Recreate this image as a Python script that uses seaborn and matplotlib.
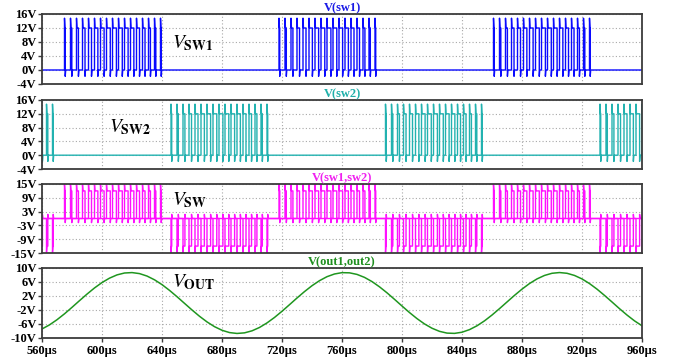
import numpy as np
import pandas as pd
import matplotlib
matplotlib.use("Agg")
import matplotlib.pyplot as plt
from matplotlib.ticker import FuncFormatter
import seaborn as sns

# ---------------- data ----------------
t_start, t_end = 560, 960                      # µs
x_ticks = [560, 600, 640, 680, 720, 760, 800, 840, 880, 920, 960]

# switching bursts (start of each PWM burst, µs)
sw1_burst_starts = [575, 718, 861]
sw2_burst_starts = [503, 646, 789, 932]
pwm_period = 4.0                               # µs
pwm_duty = [0.12, 0.22, 0.32, 0.42, 0.5, 0.56, 0.6, 0.63, 0.65,
            0.63, 0.6, 0.56, 0.5, 0.42, 0.32, 0.22, 0.12]
v_high = 12.0
v_overshoot = 14.8
v_undershoot = -1.8

# output voltage, sampled every 5 µs from 560 µs
vout_t = list(range(560, 961, 5))
vout_v = [-7.42, -6.25, -4.78, -3.09, -1.24, 0.67, 2.54, 4.30, 5.84, 7.10,
          8.03, 8.57, 8.69, 8.40, 7.70, 6.63, 5.25, 3.61, 1.80, -0.10,
          -1.99, -3.79, -5.40, -6.76, -7.79, -8.45, -8.70, -8.53, -7.95, -6.99,
          -5.69, -4.13, -2.36, -0.48, 1.43, 3.26, 4.94, 6.38, 7.52, 8.29,
          8.67, 8.62, 8.17, 7.32, 6.12, 4.62, 2.91, 1.05, -0.86, -2.73,
          -4.46, -5.98, -7.21, -8.10, -8.60, -8.68, -8.35, -7.61, -6.51, -5.10,
          -3.44, -1.61, 0.29, 2.18, 3.96, 5.56, 6.88, 7.87, 8.49, 8.70,
          8.49, 7.87, 6.88, 5.55, 3.96, 2.17, 0.29, -1.62, -3.44, -5.10, -6.51]

panel_titles = ["V(sw1)", "V(sw2)", "V(sw1,sw2)", "V(out1,out2)"]
panel_labels = [r"$V_{\mathbf{SW1}}$", r"$V_{\mathbf{SW2}}$",
                r"$V_{\mathbf{SW}}$", r"$V_{\mathbf{OUT}}$"]
yticks_sw = [-4, 0, 4, 8, 12, 16]
yticks_sw12 = [-15, -9, -3, 3, 9, 15]
yticks_out = [-10, -6, -2, 2, 6, 10]


def pwm_wave(bursts, sign):
    t, v = [t_start - 100], [0.0]
    for s in bursts:
        for k, d in enumerate(pwm_duty):
            tr = s + k * pwm_period
            tf = tr + d * pwm_period
            t += [tr, tr, tr + 0.3, tf, tf, tf + 0.3]
            v += [0, v_overshoot, v_high, v_high, v_undershoot, 0]
    t.append(t_end + 100)
    v.append(0.0)
    return pd.DataFrame({"t": t, "v": np.array(v) * sign})


sw1 = pwm_wave(sw1_burst_starts, 1)
sw2 = pwm_wave(sw2_burst_starts, 1)
sw_pos = pwm_wave(sw1_burst_starts, 1)
sw_neg = pwm_wave(sw2_burst_starts, -1)
out = pd.DataFrame({"t": vout_t, "v": vout_v})

# ---------------- figure ----------------
sns.set_theme(style="white")
plt.rcParams["font.family"] = ["Liberation Serif", "DejaVu Serif"]
plt.rcParams["mathtext.fontset"] = "stix"

fig = plt.figure(figsize=(6.73, 3.62), dpi=100)
W, H = 673, 362
left, width = 42 / W, 600 / W
panel_px = [(14, 84), (100, 169), (184, 253), (268, 338)]
axes = []
for top, bot in panel_px:
    ax = fig.add_axes([left, 1 - bot / H, width, (bot - top) / H])
    axes.append(ax)

blue, teal, mag, green = "#0a0aff", "#22b2b0", "#ff10ff", "#1f961f"
title_cols = ["#1a1ae6", "#20b0aa", "#f020f0", "#1f8f1f"]
frame_col = "#3c3c3c"

sns.lineplot(data=sw1, x="t", y="v", ax=axes[0], color=blue, linewidth=1.0,
             sort=False, estimator=None)
sns.lineplot(data=sw2, x="t", y="v", ax=axes[1], color=teal, linewidth=1.0,
             sort=False, estimator=None)
sns.lineplot(data=sw_pos, x="t", y="v", ax=axes[2], color=mag, linewidth=1.0,
             sort=False, estimator=None)
sns.lineplot(data=sw_neg, x="t", y="v", ax=axes[2], color=mag, linewidth=1.0,
             sort=False, estimator=None)
sns.lineplot(data=out, x="t", y="v", ax=axes[3], color=green, linewidth=1.1,
             sort=False, estimator=None)

ylims = [(-4, 16), (-4, 16), (-15, 15), (-10, 10)]
yticks = [yticks_sw, yticks_sw, yticks_sw12, yticks_out]
label_pos = [(647, 6.3), (605, 6.6), (647, 5.9), (647, 4.6)]

for i, ax in enumerate(axes):
    ax.set_xlim(t_start, t_end)
    ax.set_ylim(*ylims[i])
    ax.set_xticks(x_ticks)
    ax.set_yticks(yticks[i])
    ax.yaxis.set_major_formatter(FuncFormatter(lambda v, p: f"{int(v)}V"))
    ax.xaxis.set_major_formatter(FuncFormatter(lambda v, p: f"{int(v)}µs"))
    ax.grid(True, color="#a8a8a8", linestyle=(0, (1, 2)), linewidth=0.8)
    ax.set_xlabel("")
    ax.set_ylabel("")
    for sp in ax.spines.values():
        sp.set_color(frame_col)
        sp.set_linewidth(1.3)
    ax.tick_params(axis="y", left=True, length=3, width=1, pad=1,
                   labelsize=9, colors=frame_col, labelcolor="black")
    if i < 3:
        ax.tick_params(axis="x", bottom=False, labelbottom=False)
    else:
        ax.tick_params(axis="x", bottom=True, length=3, width=1, pad=2,
                       labelsize=9, colors=frame_col, labelcolor="black")
    for lab in ax.get_xticklabels() + ax.get_yticklabels():
        lab.set_fontweight("bold")
    ax.set_title(panel_titles[i], color=title_cols[i], fontsize=9,
                 fontweight="bold", pad=2)
    ax.text(label_pos[i][0], label_pos[i][1], panel_labels[i], fontsize=14,
            color="black", ha="left", va="baseline")

fig.savefig("out.png", dpi=100)
